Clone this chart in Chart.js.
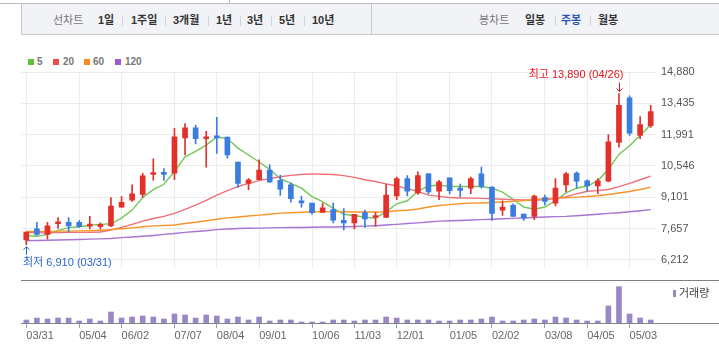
<!DOCTYPE html>
<html lang="ko">
<head>
<meta charset="utf-8">
<title>주봉 차트</title>
<script src="https://cdn.jsdelivr.net/npm/chart.js@4.4.1/dist/chart.umd.min.js"></script>
<style>
  body { margin: 0; width: 719px; height: 352px; position: relative; overflow: hidden; background: #fff;
         font-family: "Liberation Sans", "Noto Sans CJK KR", sans-serif; }
  .abs { position: absolute; }
  #topline { left: 0; top: 3px; width: 719px; border-top: 1px solid #b9bcc2; }
  #tabedge { left: 229px; top: 0; height: 3px; border-left: 1px solid #b9bcc2; }
  #menu { left: 21px; top: 4px; width: 697px; height: 30px; background: #f2f3f7;
          border-left: 1px solid #c6c8ce; border-bottom: 1px solid #c6c8ce; }
  #menu-div { left: 371px; top: 4px; height: 30px; border-left: 1px solid #c6c8ce; }
  .m { position: absolute; top: 14px; font-size: 11px; line-height: 13px; white-space: nowrap; color: #333; font-weight: bold; }
  .m.lbl { color: #777; font-weight: normal; }
  .m.on { color: #2b56b5; }
  .sep { position: absolute; top: 16px; width: 1px; height: 10px; background: #d2d4d9; }
  .lg { position: absolute; top: 56px; font-size: 10px; line-height: 12px; font-weight: bold; color: #777; }
  .sq { position: absolute; top: 59px; width: 6px; height: 6px; }
  #sepline { left: 21px; top: 280px; width: 698px; border-top: 1px solid #7d828a; }
  #main-wrap { left: 0; top: 40px; width: 719px; height: 240px; }
  #vol-wrap { left: 0; top: 280px; width: 719px; height: 72px; }
  #vol-legend { left: 673px; top: 287px; font-size: 11px; line-height: 13px; color: #444; }
  #vol-legend i { display: inline-block; width: 3px; height: 7px; background: #9a87c5; margin-right: 3px; vertical-align: 0; }
</style>
</head>
<body>
<div class="abs" id="topline"></div>
<div class="abs" id="tabedge"></div>
<div class="abs" id="menu"></div>
<div class="abs" id="menu-div"></div>

<span class="m lbl" style="left:53px">선차트</span>
<span class="m" style="left:98px">1일</span>
<span class="sep" style="left:122px"></span>
<span class="m" style="left:131px">1주일</span>
<span class="sep" style="left:165px"></span>
<span class="m" style="left:173px">3개월</span>
<span class="sep" style="left:208px"></span>
<span class="m" style="left:216px">1년</span>
<span class="sep" style="left:240px"></span>
<span class="m" style="left:247px">3년</span>
<span class="sep" style="left:271px"></span>
<span class="m" style="left:279px">5년</span>
<span class="sep" style="left:304px"></span>
<span class="m" style="left:312px">10년</span>

<span class="m lbl" style="left:479px">봉차트</span>
<span class="m" style="left:525px">일봉</span>
<span class="sep" style="left:555px"></span>
<span class="m on" style="left:561px">주봉</span>
<span class="sep" style="left:590px"></span>
<span class="m" style="left:598px">월봉</span>

<!-- moving average legend -->
<span class="sq" style="left:28px;background:#5cbf3e"></span><span class="lg" style="left:37px">5</span>
<span class="sq" style="left:53px;background:#ef4b4b"></span><span class="lg" style="left:63px">20</span>
<span class="sq" style="left:84px;background:#f68b1f"></span><span class="lg" style="left:93px">60</span>
<span class="sq" style="left:115px;background:#9e5bcc"></span><span class="lg" style="left:125px">120</span>

<div class="abs" id="sepline"></div>
<div class="abs" id="main-wrap"><canvas id="priceChart"></canvas></div>
<div class="abs" id="vol-wrap"><canvas id="volumeChart"></canvas></div>
<div class="abs" id="vol-legend"><i></i>거래량</div>

<script>
// weekly candles (last trading day of each week)
const labels = [
  '03/31', '04/07', '04/14', '04/21', '04/28', '05/04', '05/12', '05/19', '05/26', '06/02',
  '06/09', '06/16', '06/23', '06/30', '07/07', '07/14', '07/21', '07/28', '08/04', '08/11',
  '08/18', '08/25', '09/01', '09/08', '09/15', '09/22', '09/27', '10/06', '10/13', '10/20',
  '10/27', '11/03', '11/10', '11/17', '11/24', '12/01', '12/08', '12/15', '12/22', '12/28',
  '01/05', '01/12', '01/19', '01/26', '02/02', '02/08', '02/16', '02/23', '02/29', '03/08',
  '03/15', '03/22', '03/29', '04/05', '04/12', '04/19', '04/26', '05/03', '05/10', '05/17'
];
const xTickLabels = ['03/31', '05/04', '06/02', '07/07', '08/04', '09/01', '10/06',
  '11/03', '12/01', '01/05', '02/02', '03/08', '04/05', '05/03'];
const yTickValues = [6212, 7657, 9101, 10546, 11991, 13435, 14880];

const opens = [
  7130, 7640, 7390, 7880, 7950, 7950, 7770, 7750, 7780, 8650,
  8970, 9230, 10150, 10250, 10210, 11840, 12310, 11800, 11920, 11880,
  10730, 9740, 9910, 10350, 9880, 9670, 8910, 8830, 8400, 8530,
  8040, 7920, 8390, 8170, 8170, 9160, 9960, 9300, 10180, 9380,
  10000, 9520, 9520, 10180, 9570, 8510, 8730, 8330, 8220, 9090,
  8830, 9670, 10220, 9860, 9620, 9840, 11630, 13690, 11960, 12400
];
const highs = [
  7500, 7950, 7950, 8170, 8170, 8030, 8220, 7920, 9090, 9130,
  9670, 10210, 10870, 10420, 12280, 12500, 12430, 12140, 12790, 11880,
  10730, 9960, 10830, 10610, 10130, 9770, 9160, 8830, 8830, 8830,
  8580, 8320, 8510, 8400, 9700, 10030, 10100, 10280, 10210, 9880,
  10000, 9710, 10030, 10490, 9600, 8940, 8800, 8330, 9200, 9200,
  9960, 10250, 10280, 9910, 9960, 11990, 13890, 13780, 12820, 13340
];
const lows = [
  6910, 7340, 7170, 7660, 7490, 7710, 7640, 7640, 7740, 8650,
  8910, 9090, 9880, 9880, 9910, 11050, 11560, 10490, 11120, 10900,
  9550, 9450, 9910, 9770, 9190, 8870, 8650, 8320, 8400, 7920,
  7590, 7640, 7710, 7770, 8170, 8990, 9160, 9230, 9260, 8990,
  9260, 9120, 9270, 9520, 8030, 8260, 8220, 8030, 8070, 8750,
  8700, 9350, 9520, 9380, 9270, 9810, 11410, 11960, 11800, 12320
];
const closes = [
  7490, 7390, 7780, 7950, 7780, 7740, 7820, 7850, 8700, 8870,
  9260, 10090, 10210, 10150, 11890, 12310, 11810, 11880, 11840, 11050,
  9740, 9910, 10350, 9810, 9480, 9040, 8840, 8390, 8610, 8040,
  7920, 8320, 8100, 8220, 9200, 9960, 9380, 10100, 9350, 9810,
  9410, 9420, 9960, 9600, 8360, 8650, 8220, 8140, 9160, 8910,
  9520, 10180, 9840, 9620, 9860, 11660, 13340, 12060, 12450, 13050
];

// moving averages
const ma5 = [
  7340, 7300, 7390, 7560, 7700, 7740, 7810, 7850, 7880, 8140,
  8510, 9090, 9450, 9700, 10290, 10970, 11220, 11510, 11880, 11810,
  11370, 11050, 10730, 10390, 9960, 9740, 9520, 9130, 8900, 8590,
  8320, 8260, 8180, 8140, 8430, 8800, 8940, 9380, 9620, 9670,
  9600, 9600, 9600, 9600, 9520, 9340, 9010, 8650, 8550, 8650,
  8940, 9300, 9520, 9620, 9860, 10390, 11080, 11480, 11950, 12450
];
const ma20 = [
  7480, 7460, 7460, 7470, 7480, 7480, 7480, 7500, 7590, 7710,
  7850, 8000, 8120, 8220, 8360, 8540, 8740, 8960, 9200, 9410,
  9600, 9740, 9870, 9960, 10050, 10110, 10150, 10180, 10160, 10150,
  10100, 10020, 9910, 9830, 9720, 9620, 9500, 9370, 9200, 9140,
  9090, 9070, 9060, 9050, 9030, 9010, 8990, 8980, 8970, 8990,
  9040, 9130, 9260, 9380, 9410, 9460, 9590, 9740, 9910, 10080
];
const ma60 = [
  7520, 7520, 7530, 7540, 7540, 7550, 7560, 7580, 7610, 7650,
  7690, 7740, 7780, 7800, 7820, 7890, 7950, 8020, 8090, 8150,
  8190, 8240, 8280, 8320, 8370, 8390, 8410, 8430, 8440, 8440,
  8430, 8420, 8420, 8420, 8430, 8480, 8500, 8560, 8650, 8720,
  8760, 8800, 8830, 8840, 8860, 8880, 8910, 8950, 8990, 9030,
  9060, 9080, 9110, 9140, 9170, 9230, 9300, 9370, 9460, 9570
];
const ma120 = [
  7100, 7110, 7120, 7130, 7140, 7150, 7170, 7180, 7200, 7240,
  7270, 7300, 7340, 7390, 7430, 7480, 7520, 7560, 7610, 7640,
  7660, 7670, 7680, 7690, 7700, 7710, 7710, 7720, 7730, 7730,
  7740, 7750, 7770, 7790, 7820, 7850, 7890, 7920, 7960, 8000,
  8020, 8030, 8050, 8070, 8090, 8110, 8130, 8150, 8170, 8190,
  8210, 8220, 8250, 8280, 8320, 8360, 8390, 8430, 8480, 8530
];

// weekly volume, thousand shares
const volumes = [
  450, 750, 600, 750, 750, 300, 600, 300, 1650, 750,
  900, 1050, 900, 600, 1350, 1200, 750, 1200, 1050, 600,
  900, 450, 900, 300, 450, 450, 150, 150, 150, 450,
  450, 300, 450, 450, 900, 750, 450, 450, 450, 300,
  300, 450, 450, 600, 900, 300, 300, 450, 600, 450,
  900, 750, 450, 300, 300, 2550, 5450, 1350, 750, 450
];

const upColor = '#e3302b';
const downColor = '#3b7ddf';
const candleColors = closes.map((c, i) => c >= opens[i] ? upColor : downColor);

const tickFont = { family: '"Liberation Sans", Arial, sans-serif', size: 11 };

// keep only the dates that carry a label on the axis
function keepLabelTicks(scale) {
  scale.ticks = scale.ticks.filter(t => xTickLabels.includes(labels[t.value]));
}

function fmt(v) {
  return v.toLocaleString('en-US');
}

function drawArrow(ctx, x, fromY, toY) {
  const dir = toY > fromY ? 1 : -1;
  ctx.beginPath();
  ctx.moveTo(x, fromY);
  ctx.lineTo(x, toY);
  ctx.moveTo(x - 3, toY - dir * 3);
  ctx.lineTo(x, toY);
  ctx.lineTo(x + 3, toY - dir * 3);
  ctx.stroke();
}

// highest / lowest price markers
const extremaMarker = {
  id: 'extremaMarker',
  afterDatasetsDraw(chart) {
    const { ctx, scales: { x, y } } = chart;
    const hi = highs.indexOf(Math.max(...highs));
    const lo = lows.indexOf(Math.min(...lows));

    ctx.save();
    ctx.font = '11px "Liberation Sans", "Noto Sans CJK KR", sans-serif';
    ctx.textBaseline = 'middle';
    ctx.lineWidth = 1;

    // 최고
    let px = Math.round(x.getPixelForValue(hi)) + 0.5;
    let py = y.getPixelForValue(highs[hi]);
    ctx.strokeStyle = ctx.fillStyle = '#e2131b';
    drawArrow(ctx, px, py - 11, py - 2);
    ctx.textAlign = 'right';
    ctx.fillText('최고 ' + fmt(highs[hi]) + ' (' + labels[hi] + ')', px + 4, py - 18.5);

    // 최저
    px = Math.round(x.getPixelForValue(lo)) + 0.5;
    py = y.getPixelForValue(lows[lo]);
    ctx.strokeStyle = ctx.fillStyle = '#2a66cc';
    drawArrow(ctx, px, py + 10, py + 2);
    ctx.textAlign = 'left';
    ctx.fillText('최저 ' + fmt(lows[lo]) + ' (' + labels[lo] + ')', px - 3.5, py + 18);
    ctx.restore();
  }
};

const maLine = (data, color) => ({
  type: 'line',
  data: data,
  borderColor: color,
  borderWidth: 1.4,
  pointRadius: 0,
  tension: 0,
  order: 2
});

new Chart(document.getElementById('priceChart'), {
  type: 'bar',
  data: {
    labels: labels,
    datasets: [
      maLine(ma120, '#a774d3'),
      maLine(ma60, '#f7952a'),
      maLine(ma20, '#f07078'),
      maLine(ma5, '#74c656'),
      {
        // wicks
        data: lows.map((l, i) => [l, highs[i]]),
        backgroundColor: candleColors,
        barThickness: 1,
        grouped: false,
        order: 1
      },
      {
        // bodies
        data: opens.map((o, i) => [o, closes[i]]),
        backgroundColor: candleColors,
        barThickness: 5,
        minBarLength: 2,
        grouped: false,
        order: 0
      }
    ]
  },
  options: {
    responsive: true,
    maintainAspectRatio: false,
    animation: false,
    layout: { padding: { left: 21, right: 0, top: 32, bottom: 0 } },
    plugins: { legend: { display: false }, tooltip: { enabled: false } },
    scales: {
      x: {
        offset: true,
        grid: { offset: false, color: '#ececec', drawTicks: false },
        border: { display: false },
        ticks: { display: false, autoSkip: false },
        afterBuildTicks: keepLabelTicks,
        afterFit: (scale) => { scale.height = 0; }
      },
      y: {
        position: 'right',
        min: 5820,
        max: 14880,
        grid: { color: '#ececec', drawTicks: false },
        border: { display: false },
        ticks: { padding: 5, color: '#555', font: tickFont, callback: (v) => fmt(v) },
        afterBuildTicks: (scale) => { scale.ticks = yTickValues.map(v => ({ value: v })); },
        afterFit: (scale) => { scale.width = 63; }
      }
    }
  },
  plugins: [extremaMarker]
});

// volume panel baseline runs to the right edge
const volBaseline = {
  id: 'volBaseline',
  afterDraw(chart) {
    const { ctx, chartArea } = chart;
    const yy = Math.round(chartArea.bottom) + 0.5;
    ctx.save();
    ctx.strokeStyle = '#80858c';
    ctx.lineWidth = 1;
    ctx.beginPath();
    ctx.moveTo(chartArea.left, yy);
    ctx.lineTo(chart.width, yy);
    ctx.stroke();
    ctx.restore();
  }
};

new Chart(document.getElementById('volumeChart'), {
  type: 'bar',
  data: {
    labels: labels,
    datasets: [{
      data: volumes,
      backgroundColor: '#9a87c5',
      barThickness: 5
    }]
  },
  options: {
    responsive: true,
    maintainAspectRatio: false,
    animation: false,
    layout: { padding: { left: 21, right: 63, top: 3, bottom: 0 } },
    plugins: { legend: { display: false }, tooltip: { enabled: false } },
    scales: {
      x: {
        offset: true,
        grid: { offset: false, drawOnChartArea: false, drawTicks: true, tickLength: 5, color: '#9a9ea5' },
        border: { display: false },
        ticks: { align: 'start', padding: 1, autoSkip: false, maxRotation: 0, color: '#666', font: tickFont },
        afterBuildTicks: keepLabelTicks,
        afterFit: (scale) => { scale.height = 29; }
      },
      y: {
        display: false,
        min: 0,
        max: 6000
      }
    }
  },
  plugins: [volBaseline]
});
</script>
</body>
</html>
